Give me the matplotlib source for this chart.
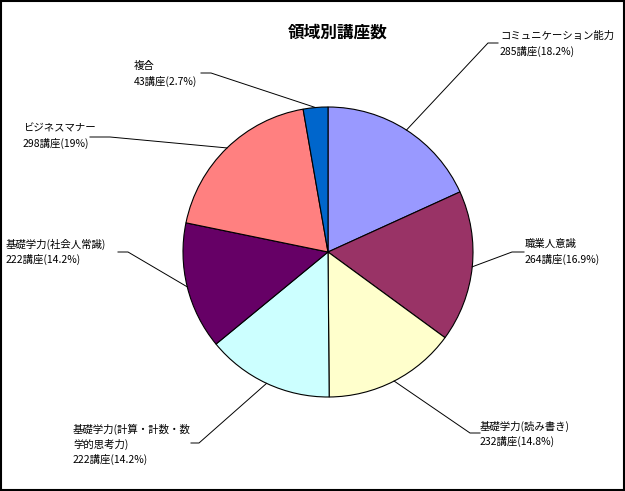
import numpy as np
import matplotlib
matplotlib.use('Agg')
import matplotlib.pyplot as plt

plt.rcParams['font.family'] = ['Noto Sans CJK JP', 'DejaVu Sans']

# data
categories = ['コミュニケーション能力', '職業人意識', '基礎学力(読み書き)',
              '基礎学力(計算・計数・数\n学的思考力)', '基礎学力(社会人常識)',
              'ビジネスマナー', '複合']
counts = [285, 264, 232, 222, 222, 298, 43]
pct_text = ['18.2%', '16.9%', '14.8%', '14.2%', '14.2%', '19%', '2.7%']
colors = ['#9999FF', '#993366', '#FFFFCC', '#CCFFFF', '#660066', '#FF8080', '#0066CC']

W, H = 625, 491
fig = plt.figure(figsize=(W / 100, H / 100), dpi=100)
ax = fig.add_axes([0, 0, 1, 1])

def Y(py):
    # pixel row (from top) -> data y
    return H - py

cx, cy, r = 328, Y(252), 145

wedges, _ = ax.pie(counts, colors=colors, startangle=90, counterclock=False,
                   center=(cx, cy), radius=r,
                   wedgeprops=dict(edgecolor='black', linewidth=0.8))

# label layout: text left x, top line y, elbow point, end of horizontal stub
layout = [
    (500, 36, (488, 43), (498, 43)),
    (525, 244, (512, 252), (524, 252)),
    (480, 426, (470, 433), (480, 433)),
    (73, 429, (199, 443), (191, 443)),
    (6, 244, (128, 252), (118, 252)),
    (23, 128, (110, 137), (90, 137)),
    (134, 66, (211, 73), (201, 73)),
]

step = 15
for w, name, n, p, (tx, ty, elbow, end) in zip(wedges, categories, counts, pct_text, layout):
    mid = np.deg2rad((w.theta1 + w.theta2) / 2)
    sx = cx + r * np.cos(mid)
    sy = cy + r * np.sin(mid)
    ax.plot([sx, elbow[0], end[0]], [sy, Y(elbow[1]), Y(end[1])],
            color='black', linewidth=0.7)
    lines = name.split('\n') + ['%d講座(%s)' % (n, p)]
    for i, line in enumerate(lines):
        ax.text(tx, Y(ty + i * step), line, ha='left', va='center', fontsize=7.5)

ax.text(338, Y(33), '領域別講座数', ha='center', va='center',
        fontsize=12, fontweight='bold')

ax.set_xlim(0, W)
ax.set_ylim(0, H)
ax.set_aspect('auto')
ax.axis('off')

fig.add_artist(plt.Rectangle((0.001, 0.0015), 0.997, 0.996, transform=fig.transFigure,
                             fill=False, edgecolor='black', linewidth=1.5))

fig.savefig('out.png', dpi=100, facecolor='white')
